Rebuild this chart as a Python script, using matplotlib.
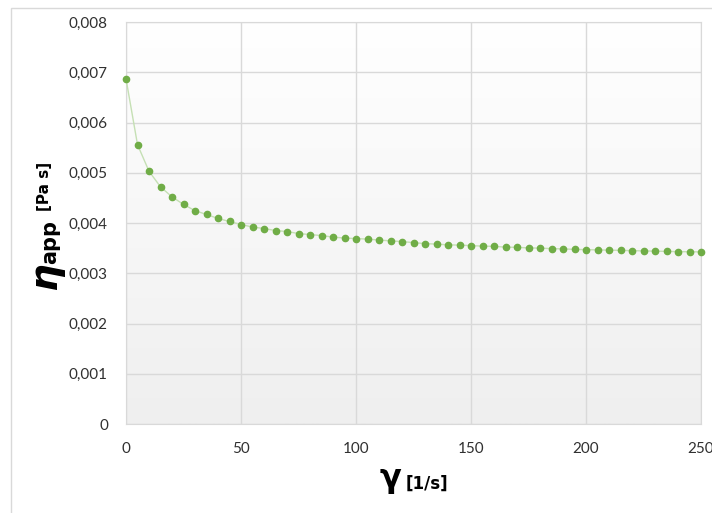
"""
Apparent viscosity vs shear rate, Excel-style chart.
"""

import numpy as np
import matplotlib.pyplot as plt
from matplotlib.colors import LinearSegmentedColormap
from matplotlib.ticker import FuncFormatter
from matplotlib.patches import Rectangle

# shear rate [1/s]
shear_rate = list(range(0, 255, 5))

# apparent viscosity [Pa s]
eta_app = [
    0.00687, 0.00556, 0.00503, 0.00472, 0.00452, 0.00437, 0.004245, 0.00417,
    0.00409, 0.00403, 0.00397, 0.00392, 0.00389, 0.00385, 0.00383, 0.00379,
    0.00377, 0.00375, 0.00372, 0.00370, 0.00369, 0.00368, 0.00366, 0.003645,
    0.00363, 0.00361, 0.00359, 0.00358, 0.003565, 0.00356, 0.00355, 0.00354,
    0.003535, 0.00352, 0.003515, 0.003505, 0.00350, 0.00349, 0.003485,
    0.003475, 0.00347, 0.003465, 0.00346, 0.003455, 0.00345, 0.003445,
    0.00344, 0.003435, 0.00343, 0.003428, 0.003425,
]

y_ticks = [0, 0.001, 0.002, 0.003, 0.004, 0.005, 0.006, 0.007, 0.008]
x_ticks = [0, 50, 100, 150, 200, 250]

plt.rcParams['font.family'] = ['Lato', 'DejaVu Sans']

W, H = 712, 513
fig = plt.figure(figsize=(W / 100, H / 100), dpi=100)
# chart area frame, like the Excel one
fig.patches.append(Rectangle((11 / W, -0.01), 1.0, 1 - 8 / H + 0.01,
                             transform=fig.transFigure, fill=False,
                             edgecolor='#d9d9d9', linewidth=1.0))

ax = fig.add_axes([126 / W, 1 - 424 / H, (701 - 126) / W, (424 - 22) / H])

# vertical gradient in the plot area
grad = np.linspace(1.0, 0.0, 256).reshape(-1, 1)
bg = LinearSegmentedColormap.from_list('bg', ['#efefef', '#ffffff'])
ax.imshow(grad, extent=[0, 1, 0, 1], transform=ax.transAxes, aspect='auto',
          cmap=bg, zorder=0)

ax.plot(shear_rate, eta_app, color='#c5e0b4', linewidth=1.0, zorder=3)
ax.plot(shear_rate, eta_app, linestyle='none', marker='o', markersize=4.5,
        color='#70ad47', zorder=4, clip_on=False)

ax.set_xlim(0, 250)
ax.set_ylim(0, 0.008)
ax.set_xticks(x_ticks)
ax.set_yticks(y_ticks)
ax.yaxis.set_major_formatter(FuncFormatter(
    lambda v, p: '0' if v == 0 else f"{v:.3f}".replace('.', ',')))
ax.grid(True, color='#d9d9d9', linewidth=1.0, zorder=1)
ax.set_axisbelow(True)
ax.tick_params(length=0, labelsize=11, labelcolor='#303030')
ax.tick_params(axis='x', pad=13)
ax.tick_params(axis='y', pad=13)
for s in ax.spines.values():
    s.set_color('#d9d9d9')

# y axis title: eta_app [Pa s], rotated
fig.text(45 / W, 1 - 276 / H, 'η', fontsize=28, fontweight='bold',
         style='italic', rotation=90, ha='center', va='center',
         family=['DejaVu Sans'])
fig.text(50 / W, 1 - 242 / H, 'app', fontsize=15, fontweight='bold',
         rotation=90, ha='center', va='center', family=['DejaVu Sans'])
fig.text(44 / W, 1 - 186 / H, '[Pa s]', fontsize=11, fontweight='bold',
         rotation=90, ha='center', va='center', family=['DejaVu Sans'])

# x axis title: gamma [1/s]
fig.text(390 / W, 1 - 479 / H, 'γ', fontsize=23, fontweight='bold',
         ha='center', va='center', family=['DejaVu Sans'])
fig.text(427 / W, 1 - 484 / H, '[1/s]', fontsize=12, fontweight='bold',
         ha='center', va='center', family=['DejaVu Sans'])

fig.savefig('out.png', dpi=100)
